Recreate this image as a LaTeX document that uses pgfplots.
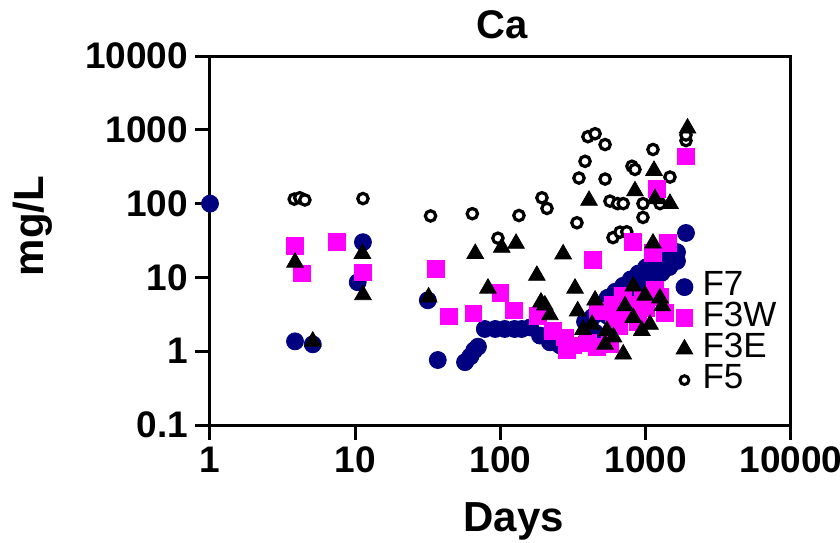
\documentclass[border=0pt]{standalone}
\usepackage{fontspec}
\setmainfont{Liberation Sans}
\usepackage{pgfplots}
\pgfplotsset{compat=1.18}
\definecolor{navyc}{RGB}{0,0,128}
\definecolor{mag}{RGB}{255,0,255}
\begin{document}
\begin{tikzpicture}
\begin{axis}[name=ax, scale only axis, width=290.5pt, height=184.5pt,
 xmode=log, ymode=log, xmin=1, xmax=10000, ymin=0.1, ymax=10000,
 xtick={1,10,100,1000,10000}, xticklabels={1,10,100,1000,10000},
 ytick={0.1,1,10,100,1000,10000}, yticklabels={0.1,1,10,100,1000,10000},
 xminorticks=false, yminorticks=false,
 tick align=outside, tick pos=left, major tick length=7.5pt,
 axis line style={line width=1.5pt}, every tick/.style={black, line width=1.5pt},
 ticklabel style={font=\fontsize{18.5}{20}\selectfont\bfseries},
 title={Ca}, title style={font=\fontsize{20}{22}\selectfont\bfseries, at={(0.503,1)}, anchor=base, yshift=3pt, inner sep=0pt},
 xlabel={Days}, xlabel style={font=\fontsize{21}{24}\selectfont\bfseries, at={(axis description cs:0.523,0)}, anchor=base, yshift=-53pt, inner sep=0pt},
 ylabel={mg/L}, ylabel style={font=\fontsize{21}{24}\selectfont\bfseries, at={(axis description cs:-0.2874,0.539)}, anchor=base, inner sep=0pt},
 legend cell align=left,
 legend image code/.code={\draw[#1] plot coordinates {(0pt,4pt)};},
 legend style={at={(0.802,0.417)}, anchor=north west, draw=none, fill=none, inner sep=0pt, outer sep=0pt, row sep=0pt, column sep=4.8pt,
   font=\fontsize{17.5}{17.5}\selectfont, nodes={inner sep=0pt, text height=12pt, text depth=3.5pt, anchor=base west}},
]
\addlegendimage{only marks, mark=*, mark size=4.25pt, color=navyc}
\addlegendentry{F7}
\addlegendimage{only marks, mark=square*, mark size=4.2pt, color=mag}
\addlegendentry{F3W}
\addlegendimage{only marks, mark=triangle*, mark size=4.8pt, color=black}
\addlegendentry{F3E}
\addlegendimage{only marks, mark=*, mark size=2.2pt, mark options={fill=white, draw=black, line width=1.5pt}}
\addlegendentry{F5}

% F7
\addplot[forget plot, only marks, mark=*, mark size=4.25pt, color=navyc] coordinates {
(1,100) (3.85,1.36) (5.1,1.24) (11.3,30) (10.4,8.6) (31.6,4.9)
(37,0.76) (57,0.71) (62,0.85) (66,1.03) (70,1.15)
(78,2.0) (92,2.0) (107,2.0) (125,2.0) (140,2.0)
(160,2.1) (187,1.63) (219,1.32) (257,1.2) (301,1.13) (382,1.32) (448,1.79)
(382,2.5) (430,2.9) (484,3.31)
(547,4.0) (618,4.84) (699,5.86) (789,7.1) (891,8.6) (1007,10.4) (1137,12.5) (1285,15.1) (1452,18.2) (1641,22)
(547,5.3) (618,6.4) (699,7.7) (789,9.4) (891,11.3) (1007,13.7) (1137,16.5) (1285,19.9) (1452,24)
(547,3.0) (618,3.7) (699,4.45) (789,5.4) (891,6.5) (1007,7.9) (1137,9.5) (1285,11.5) (1452,13.8) (1641,16.7)
(1893,40)
};
% F5
\addplot[forget plot, only marks, mark=*, mark size=2.6pt, mark options={fill=white, draw=black, line width=1.6pt}] coordinates {
(3.8,115) (4.15,120) (4.5,112) (11.3,117)
(33,68) (64,73) (96,34) (134,69)
(193,120) (209,86) (336,55)
(347,222) (382,374) (400,807) (448,885) (525,631) (525,215)
(567,108) (640,100) (700,100)
(595,34.6) (665,41) (740,41.5)
(804,321) (843,290) (1122,541) (1468,229)
(957,65) (957,100) (1253,100)
(1893,714) (1893,850)
};
% F3W
\addplot[forget plot, only marks, mark=square*, mark size=4.2pt, color=mag] coordinates {
(3.85,27) (4.3,11.3) (7.5,30.6) (11.3,11.7) (36,13.2) (44,2.97) (65,3.26)
(100,6.2) (124,3.58) (181,3.0) (229,1.9) (278,1.54) (286,1.03) (314,1.2)
(400,1.3) (460,1.15) (433,17.3) (468,3.5) (567,1.24) (595,4.2) (600,2.85)
(650,2.2) (700,5.7) (720,3.2) (780,4.2) (880,2.5) (960,5.0) (1000,3.8)
(1158,6.7) (1250,5.5) (1356,3.3) (820,30) (1122,21.5) (1423,29) (1195,160)
(1893,437)
};
% F3E
\addplot[forget plot, only marks, mark=triangle*, mark size=4.8pt, color=black] coordinates {
(3.85,16) (5.1,1.36) (11.2,21) (11.3,5.8) (32,5.4) (67,21) (82,7.1)
(102,25.4) (128,28.8) (178,10.6) (190,4.6) (202,4.2) (219,3.1) (270,20.7)
(326,7.1) (340,3.5) (370,1.96) (407,110) (427,2.3) (448,4.9) (540,1.9) (525,1.24)
(600,1.55) (700,0.91) (720,4.1) (820,7.6) (820,2.85) (940,1.9) (990,5.7)
(1070,2.3) (1253,5.25) (1300,4.1) (1122,29) (1140,280) (843,148) (1158,116)
(1468,100) (1940,1050)
};
\end{axis}
\pgfresetboundingbox
\path (ax.south west) ++(-105pt,-58.5pt) rectangle ++(420pt,271pt);
\end{tikzpicture}
\end{document}
